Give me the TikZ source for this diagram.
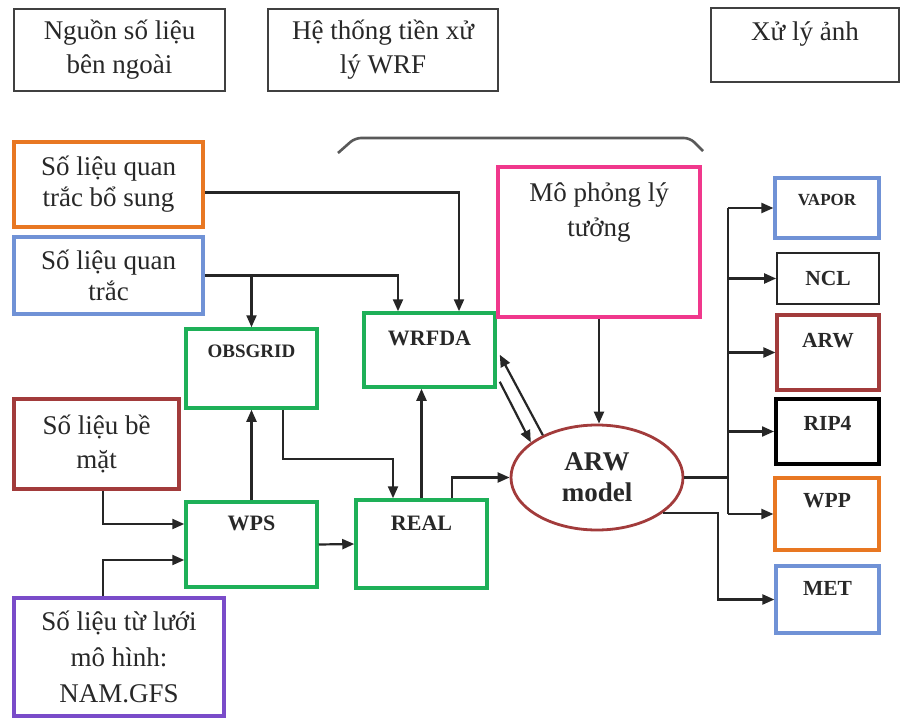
\documentclass[tikz,border=0pt]{standalone}
\usepackage{fontspec}
\setmainfont{Liberation Serif}
\usetikzlibrary{arrows.meta,calc,shapes.geometric}
\definecolor{cOrange}{RGB}{232,119,34}
\definecolor{cBlue}{RGB}{112,146,214}
\definecolor{cGreen}{RGB}{30,176,88}
\definecolor{cRed}{RGB}{162,59,59}
\definecolor{cPurple}{RGB}{122,76,201}
\definecolor{cPink}{RGB}{240,56,140}
\definecolor{cText}{RGB}{40,40,40}
\begin{document}
\begin{tikzpicture}[x=1pt,y=-1pt,
  every node/.style={text=cText},
  basebox/.style={draw, rectangle, inner sep=0pt, align=center},
  topbox/.style={basebox, draw=black!75, line width=1.6pt, font=\fontsize{27}{34}\selectfont},
  srcbox/.style={basebox, line width=3.5pt, font=\fontsize{27}{31}\selectfont},
  greenbox/.style={basebox, draw=cGreen, line width=3.5pt},
  outbox/.style={basebox, line width=3.2pt},
  glab/.style={font=\fontsize{22}{24}\selectfont\bfseries, inner sep=0pt, anchor=center},
  olab/.style={font=\fontsize{21.5}{24}\selectfont\bfseries, inner sep=0pt, anchor=center},
  arr/.style={draw=black!85, line width=2.2pt, -{Triangle[length=12pt,width=10pt]}},
  plain/.style={draw=black!85, line width=2.2pt}
]
\useasboundingbox (0,0) rectangle (902,722);
\fill[white] (0,0) rectangle (902,722);

% top legend boxes
\node[topbox, minimum width=211pt, minimum height=82pt] (src) at (119.5,50) {Nguồn số liệu\\bên ngoài};
\node[topbox, minimum width=230pt, minimum height=82pt] (pre) at (383,50) {Hệ thống tiền xử\\lý WRF};
\node[topbox, minimum width=188pt, minimum height=74pt,
  label={[inner sep=0pt, anchor=center, font=\fontsize{27}{30}\selectfont, yshift=-27pt]north:Xử lý ảnh}] (post) at (805,45) {};

% brace over WRF part
\draw[black!65, line width=2.6pt, rounded corners=6pt] (338,153) -- (355,138) -- (690,138) -- (703,151);

% source boxes
\node[srcbox, draw=cOrange, minimum width=189pt, minimum height=85pt] (orange) at (108.5,184.5) {Số liệu quan\\trắc bổ sung};
\node[srcbox, draw=cBlue, minimum width=189pt, minimum height=77pt] (blue) at (108.5,275.5) {Số liệu quan\\trắc};
\node[srcbox, draw=cRed, minimum width=165pt, minimum height=90pt, font=\fontsize{27}{34}\selectfont] (surf) at (96.5,444) {Số liệu bề\\mặt};
\node[srcbox, draw=cPurple, minimum width=210pt, minimum height=118pt, font=\fontsize{27}{36}\selectfont] (purp) at (119,657) {Số liệu từ lưới\\mô hình:\\NAM.GFS};

% WRF system boxes
\node[greenbox, minimum width=131pt, minimum height=79pt,
  label={[glab, font=\fontsize{19}{22}\selectfont\bfseries, yshift=-24pt]north:OBSGRID}] (obsgrid) at (251.5,368.5) {};
\node[greenbox, minimum width=131pt, minimum height=74pt,
  label={[glab, yshift=-27pt]north:WRFDA}] (wrfda) at (429.5,350) {};
\node[greenbox, minimum width=131pt, minimum height=85pt,
  label={[glab, yshift=-23pt]north:WPS}] (wps) at (251.5,544.5) {};
\node[greenbox, minimum width=131pt, minimum height=88pt,
  label={[glab, yshift=-25pt]north:REAL}] (real) at (421.5,544) {};

\node[srcbox, draw=cPink, minimum width=202pt, minimum height=150pt,
  label={[inner sep=0pt, anchor=center, align=center, font=\fontsize{27}{35}\selectfont, yshift=-47.5pt]north:Mô phỏng lý\\tưởng}] (pink) at (599,242) {};

\node[ellipse, draw=cRed, line width=2.8pt, minimum width=172pt, minimum height=105pt, inner sep=0pt,
  align=center, font=\fontsize{27}{31}\selectfont\bfseries] (arw) at (597,477.5) {ARW\\model};

% output boxes
\node[outbox, draw=cBlue, minimum width=104pt, minimum height=60pt,
  label={[olab, font=\fontsize{17}{20}\selectfont\bfseries, yshift=-24pt]north:VAPOR}] (vapor) at (827,208) {};
\node[outbox, draw=black!85, line width=1.8pt, minimum width=102pt, minimum height=51pt,
  font=\fontsize{21.5}{24}\selectfont\bfseries] (ncl) at (828,278.5) {NCL};
\node[outbox, draw=cRed, minimum width=102pt, minimum height=75pt,
  label={[olab, yshift=-27pt]north:ARW}] (arwbox) at (828,352.5) {};
\node[outbox, draw=black, line width=4pt, minimum width=103pt, minimum height=65pt,
  label={[olab, yshift=-26pt]north:RIP4}] (rip4) at (827.5,431.5) {};
\node[outbox, draw=cOrange, minimum width=104pt, minimum height=72pt,
  label={[olab, yshift=-24pt]north:WPP}] (wpp) at (827,514) {};
\node[outbox, draw=cBlue, minimum width=103pt, minimum height=67pt,
  label={[olab, yshift=-24pt]north:MET}] (met) at (827.5,599.5) {};

% connectors: observations
\draw[arr] ($(orange.east)+(0,8)$) -| ($(wrfda.north)+(29.5,0)$);
\draw[arr] (blue.east) -| ($(wrfda.north)+(-31.5,0)$);
\draw[arr] (blue.east -| obsgrid.north) -- (obsgrid.north);

% surface & grid data into WPS
\draw[arr] ($(surf.south)+(6.5,0)$) |- ($(wps.west)+(0,-20.5)$);
\draw[arr] ($(purp.north)+(-16,0)$) |- ($(wps.west)+(0,15.5)$);

% WPS / OBSGRID / REAL / WRFDA
\draw[arr] (wps.north) -- (obsgrid.south);
\draw[arr] ($(obsgrid.south)+(31.5,0)$) -- ++(0,49) -| ($(real.north)+(-28.5,0)$);
\draw[arr] (wps.east) -- (real.west);
\draw[arr] (real.north) -- (real.north |- wrfda.south);
\draw[arr] ($(real.north)+(30.5,0)$) |- (arw.west);

% ideal simulation and WRFDA <-> ARW
\draw[arr] (pink.south) -- (pink.south |- arw.north);
\draw[arr] (arw.142) -- ($(wrfda.south east)+(3,-34)$);
\draw[arr] ($(wrfda.south east)+(3,-7)$) -- (arw.152);

% outputs
\coordinate (bus) at (728,0);
\draw[plain] (arw.east) -- (arw.east -| bus);
\draw[plain] (vapor.west -| bus) -- (wpp.west -| bus);
\draw[arr] (vapor.west -| bus) -- (vapor.west);
\draw[arr] (ncl.west -| bus) -- (ncl.west);
\draw[arr] (arwbox.west -| bus) -- (arwbox.west);
\draw[arr] (rip4.west -| bus) -- (rip4.west);
\draw[arr] (wpp.west -| bus) -- (wpp.west);
\draw[arr] (arw.-28) -- ++(55,0) |- (met.west);
\end{tikzpicture}
\end{document}
